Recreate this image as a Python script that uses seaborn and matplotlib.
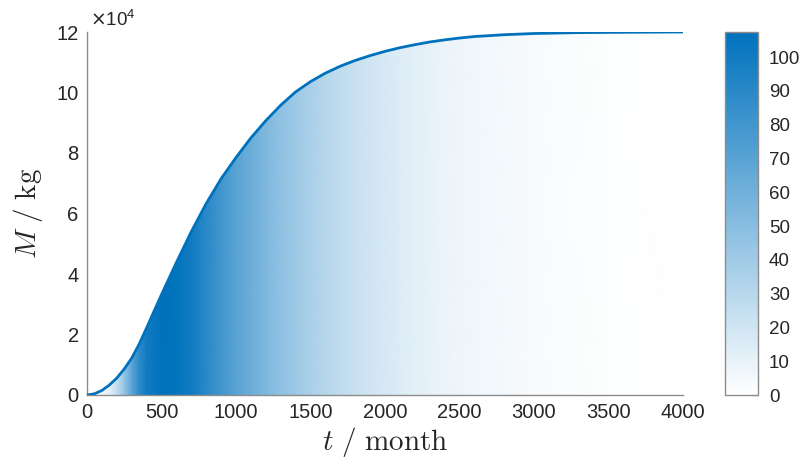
import numpy as np
import matplotlib
matplotlib.use('Agg')
import matplotlib.pyplot as plt
from matplotlib.colors import LinearSegmentedColormap, Normalize
import seaborn as sns

# mass curve (t in months, M in 1e4 kg)
t_curve = [0, 50, 100, 150, 200, 250, 300, 350, 400, 450, 500, 600, 700, 800, 900,
           1000, 1100, 1200, 1300, 1400, 1500, 1600, 1700, 1800, 1900, 2000,
           2100, 2200, 2300, 2400, 2500, 2600, 2800, 3000, 3300, 3600, 4000]
m_curve = [0, 0.04, 0.15, 0.33, 0.56, 0.86, 1.22, 1.68, 2.22, 2.77, 3.32, 4.38, 5.40, 6.33, 7.15,
           7.85, 8.50, 9.07, 9.58, 10.02, 10.36, 10.64, 10.87, 11.06, 11.22, 11.36,
           11.48, 11.58, 11.67, 11.74, 11.80, 11.85, 11.91, 11.95, 11.98, 11.99, 12.0]

# growth rate shown by the fill colour (kg / month)
t_rate = [0, 100, 150, 200, 250, 300, 350, 400, 500, 600, 700, 800, 900, 1000,
          1200, 1400, 1600, 1800, 2000, 2200, 2500, 3000, 3500, 4000]
rate = [0, 5, 12, 25, 45, 68, 88, 100, 107, 106, 100, 90, 80, 70,
        54, 41, 31, 23, 17, 12, 7, 3, 1, 0]

y_ticks = [0, 2, 4, 6, 8, 10, 12]
x_ticks = [0, 500, 1000, 1500, 2000, 2500, 3000, 3500, 4000]
cbar_ticks = [0, 10, 20, 30, 40, 50, 60, 70, 80, 90, 100]

sns.set_theme(style='white')
plt.rcParams['font.family'] = ['Liberation Sans', 'DejaVu Sans']
plt.rcParams['text.color'] = '#262626'
plt.rcParams['xtick.color'] = '#262626'
plt.rcParams['ytick.color'] = '#262626'

blue = '#0072BD'
cmap = LinearSegmentedColormap.from_list('wb', ['#ffffff', blue])
norm = Normalize(vmin=0, vmax=107.4)

fig = plt.figure(figsize=(8.02, 4.72), dpi=100)
ax = fig.add_axes([87 / 802, 1 - 395 / 472, 596 / 802, 363 / 472])
cax = fig.add_axes([725 / 802, 1 - 395 / 472, 33 / 802, 363 / 472])

# colour-graded area under the curve
X = np.vstack([t_rate, t_rate])
Y = np.vstack([np.zeros(len(t_rate)), np.full(len(t_rate), 12.5)])
C = np.vstack([rate, rate])
mesh = ax.pcolormesh(X, Y, C, cmap=cmap, norm=norm, shading='gouraud', zorder=1)
area = ax.fill_between(t_curve, m_curve, 0, facecolor='none', edgecolor='none')
mesh.set_clip_path(area.get_paths()[0], transform=ax.transData)

sns.lineplot(x=t_curve, y=m_curve, ax=ax, color=blue, lw=2.0, zorder=3)

ax.set_xlim(0, 4000)
ax.set_ylim(0, 12)
ax.set_xticks(x_ticks)
ax.set_yticks(y_ticks)
ax.tick_params(direction='in', length=5, width=0.8, color='#8c8c8c', labelsize=14.5, pad=6)
for side in ['top', 'right']:
    ax.spines[side].set_visible(False)
for side in ['left', 'bottom']:
    ax.spines[side].set_color('#8c8c8c')
    ax.spines[side].set_linewidth(1.0)

ax.set_xlabel(r'$t\ /\ \mathrm{month}$', fontsize=21, math_fontfamily='cm', labelpad=2)
ax.set_ylabel(r'$M\ /\ \mathrm{kg}$', fontsize=21, math_fontfamily='cm', labelpad=8)
ax.text(0.005, 1.005, r'$\times\mathregular{10^{4}}$', transform=ax.transAxes,
        fontsize=13.5, ha='left', va='bottom', math_fontfamily='dejavusans')

sm = plt.cm.ScalarMappable(cmap=cmap, norm=norm)
cb = fig.colorbar(sm, cax=cax, ticks=cbar_ticks)
cb.outline.set_edgecolor('#8c8c8c')
cb.outline.set_linewidth(1.0)
cax.tick_params(direction='in', length=5, width=0.8, color='#262626', labelsize=13.5, pad=8)

fig.savefig('out.png', dpi=100)
